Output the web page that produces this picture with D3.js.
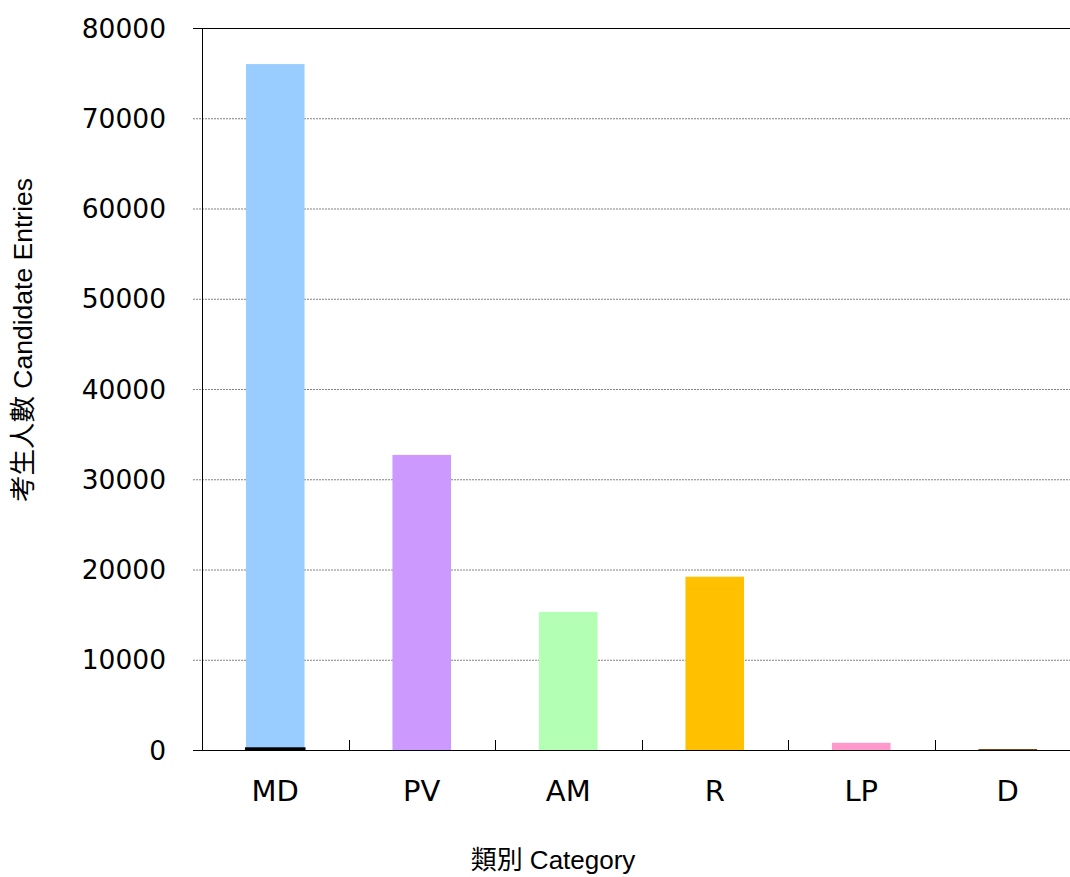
<!DOCTYPE html>
<html>
<head>
<meta charset="utf-8">
<script src="https://cdn.jsdelivr.net/npm/d3@7"></script>
<style>
  body { margin: 0; background: #fff; }
  svg { display: block; }
</style>
</head>
<body>
<svg id="chart"></svg>
<script>
(() => {

  // data
  const categories = ['MD', 'PV', 'AM', 'R', 'LP', 'D'];
  const entries    = [76000, 32700, 15300, 19200, 800, 100];
  const baseLine   = [300, 0, 0, 0, 0, 0];
  const colors     = ['#99ccff', '#cc99ff', '#b3ffb3', '#ffc000', '#ff99cc', '#663300'];
  const yTicks     = [0, 10000, 20000, 30000, 40000, 50000, 60000, 70000, 80000];

  const svgWidth  = 1070;
  const svgHeight = 877;
  const left = 202, top = 28, right = 1081, bottom = 750;

  const svg = d3.select('#chart')
    .attr('width', svgWidth)
    .attr('height', svgHeight);

  const x = d3.scaleBand()
    .domain(categories)
    .range([left, right])
    .paddingInner(0.6)
    .paddingOuter(0.3);

  const xEdges = d3.scaleBand().domain(categories).range([left, right]);

  const y = d3.scaleLinear()
    .domain([0, 80000])
    .range([bottom, top]);

  // gridlines
  svg.append('g')
    .selectAll('line')
    .data(yTicks.filter(t => t > 0 && t < 80000))
    .enter()
    .append('line')
    .attr('x1', left - 9)
    .attr('x2', svgWidth)
    .attr('y1', d => y(d) + 0.5)
    .attr('y2', d => y(d) + 0.5)
    .attr('stroke', '#808080')
    .attr('stroke-dasharray', '2,1');

  // top border
  svg.append('line')
    .attr('x1', left - 9).attr('x2', svgWidth)
    .attr('y1', y(80000) + 0.5).attr('y2', y(80000) + 0.5)
    .attr('stroke', '#000');

  // bars
  svg.append('g')
    .selectAll('rect')
    .data(categories)
    .enter()
    .append('rect')
    .attr('x', d => x(d))
    .attr('width', x.bandwidth())
    .attr('y', (d, i) => y(entries[i]))
    .attr('height', (d, i) => y(0) - y(entries[i]))
    .attr('fill', (d, i) => colors[i]);

  svg.append('g')
    .selectAll('rect')
    .data(categories.filter((d, i) => baseLine[i] > 0))
    .enter()
    .append('rect')
    .attr('x', d => x(d) - 1)
    .attr('width', x.bandwidth() + 2)
    .attr('y', d => y(baseLine[categories.indexOf(d)]))
    .attr('height', d => y(0) - y(baseLine[categories.indexOf(d)]))
    .attr('fill', '#000');

  // y axis
  svg.append('line')
    .attr('x1', left + 0.5).attr('x2', left + 0.5)
    .attr('y1', top).attr('y2', bottom)
    .attr('stroke', '#000');

  svg.append('g')
    .selectAll('text')
    .data(yTicks)
    .enter()
    .append('text')
    .attr('x', 166)
    .attr('y', d => y(d))
    .attr('dy', '0.36em')
    .attr('text-anchor', 'end')
    .style('font-family', 'DejaVu Sans, Verdana, sans-serif')
    .style('font-size', '26.5px')
    .attr('fill', '#000')
    .text(d => d);

  // x axis
  svg.append('line')
    .attr('x1', left - 9).attr('x2', svgWidth)
    .attr('y1', bottom + 0.5).attr('y2', bottom + 0.5)
    .attr('stroke', '#000');

  svg.append('g')
    .selectAll('line')
    .data(categories.slice(1))
    .enter()
    .append('line')
    .attr('x1', d => Math.round(xEdges(d)) + 0.5)
    .attr('x2', d => Math.round(xEdges(d)) + 0.5)
    .attr('y1', bottom - 10)
    .attr('y2', bottom)
    .attr('stroke', '#000');

  svg.append('g')
    .selectAll('text')
    .data(categories)
    .enter()
    .append('text')
    .attr('x', d => x(d) + x.bandwidth() / 2)
    .attr('y', 791)
    .attr('dy', '0.36em')
    .attr('text-anchor', 'middle')
    .style('font-family', 'DejaVu Sans, Verdana, sans-serif')
    .style('font-size', '29px')
    .attr('fill', '#000')
    .text(d => d);

  // axis titles
  svg.append('text')
    .attr('x', 553)
    .attr('y', 860)
    .attr('dy', '0.36em')
    .attr('text-anchor', 'middle')
    .style('font-family', 'Liberation Sans, Arial, Noto Sans CJK TC, sans-serif')
    .style('font-size', '26px')
    .attr('fill', '#000')
    .text('類別 Category');

  svg.append('text')
    .attr('transform', 'translate(22, 340) rotate(-90)')
    .attr('dy', '0.36em')
    .attr('text-anchor', 'middle')
    .style('font-family', 'Liberation Sans, Arial, Noto Sans CJK TC, sans-serif')
    .style('font-size', '26.5px')
    .attr('fill', '#000')
    .text('考生人數 Candidate Entries');

})();
</script>
</body>
</html>
